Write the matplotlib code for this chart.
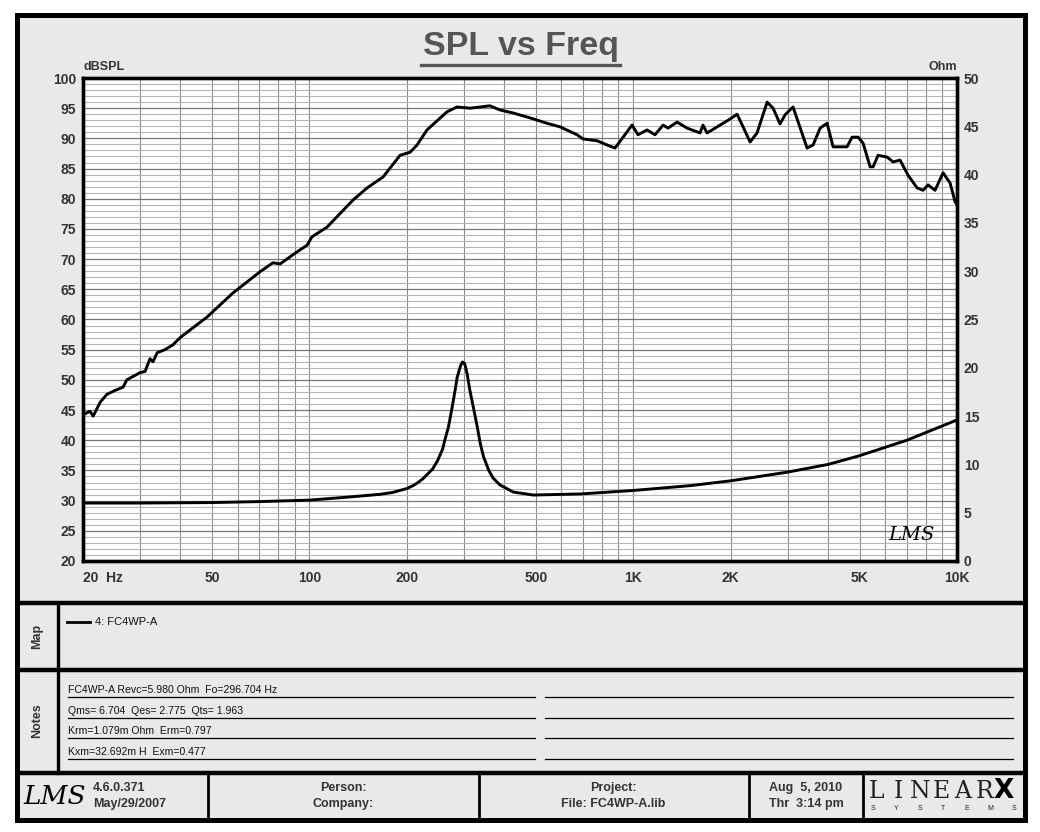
import matplotlib
matplotlib.use("Agg")
import matplotlib.pyplot as plt
from matplotlib.patches import Rectangle
from matplotlib.ticker import FixedLocator, LogLocator, MultipleLocator, NullFormatter

plt.rcParams['font.family'] = ['Liberation Sans Narrow', 'Liberation Sans', 'DejaVu Sans']

# ---- data ----
spl_freq = [20, 21.0, 21.5, 22.6, 23.7, 25, 26.6, 27.3, 30, 31.1, 32.2, 32.9, 33.9, 35.8, 37.9,
            39.9, 48.3, 58.1, 70.4, 77.2, 81.2, 91.6, 98.4, 101.9, 113.4, 136.5, 150.8, 168.9,
            190.6, 204.6, 215.1, 230.8, 266.2, 285.8, 313.4, 337, 361, 388, 426, 480, 542, 595,
            671, 700, 774, 831, 879, 931, 992, 1035, 1104, 1168, 1237, 1281, 1366, 1467, 1609,
            1643, 1691, 1855, 1991, 2093, 2185, 2296, 2413, 2592, 2704, 2842, 2944, 3116, 3444,
            3594, 3778, 3970, 4144, 4577, 4742, 4950, 5129, 5391, 5508, 5706, 6081, 6346, 6671,
            7062, 7528, 7856, 8140, 8555, 9057, 9520, 9864, 10000]
spl_db = [44.2, 44.8, 44.0, 46.3, 47.6, 48.2, 48.8, 50.0, 51.2, 51.4, 53.5, 53.0, 54.5, 55.0, 55.8,
          57.0, 60.4, 64.4, 67.9, 69.4, 69.2, 71.2, 72.3, 73.7, 75.3, 79.8, 81.8, 83.6,
          87.2, 87.7, 88.9, 91.4, 94.4, 95.2, 95.0, 95.2, 95.4, 94.7, 94.2, 93.4, 92.5, 91.9,
          90.6, 89.9, 89.6, 88.9, 88.4, 90.2, 92.2, 90.6, 91.4, 90.6, 92.2, 91.7, 92.7, 91.7, 90.9,
          92.2, 90.9, 92.2, 93.2, 94.0, 91.9, 89.4, 90.9, 96.0, 95.0, 92.4, 93.9, 95.2, 88.4,
          88.9, 91.7, 92.5, 88.6, 88.6, 90.2, 90.2, 89.2, 85.3, 85.3, 87.2, 86.9, 86.1, 86.4,
          83.9, 81.8, 81.4, 82.3, 81.4, 84.3, 82.6, 79.5, 79.0]

imp_freq = [20, 30, 50, 70, 100, 130, 165, 181, 200, 209, 216, 224, 240, 249, 258, 262, 269, 276,
            282, 286, 293, 297, 302, 307, 313, 321, 330, 337, 345, 358, 369, 388, 426, 491, 686,
            1000, 1500, 2000, 3000, 4000, 5000, 7000, 10000]
imp_ohm = [6.0, 6.0, 6.05, 6.15, 6.3, 6.6, 6.9, 7.1, 7.5, 7.8, 8.1, 8.5, 9.5, 10.4, 11.6, 12.5,
           13.9, 15.9, 17.7, 19.0, 20.2, 20.6, 20.4, 19.4, 17.7, 15.9, 13.9, 12.2, 10.8, 9.4, 8.6,
           7.87, 7.14, 6.83, 6.94, 7.3, 7.8, 8.3, 9.2, 10.0, 10.9, 12.5, 14.6]

x_ticks = [20, 50, 100, 200, 500, 1000, 2000, 5000, 10000]
x_labels = ['20  Hz', '50', '100', '200', '500', '1K', '2K', '5K', '10K']
notes = ['FC4WP-A Revc=5.980 Ohm  Fo=296.704 Hz',
         'Qms= 6.704  Qes= 2.775  Qts= 1.963',
         'Krm=1.079m Ohm  Erm=0.797',
         'Kxm=32.692m H  Exm=0.477']

W, H = 1040, 832
PANEL = '#e9e9e9'
TXT = '#333333'

fig = plt.figure(figsize=(W / 100, H / 100), dpi=100)
fig.patch.set_facecolor('white')

# page furniture drawn in pixel coordinates
bg = fig.add_axes([0, 0, 1, 1])
bg.set_xlim(0, W); bg.set_ylim(H, 0); bg.axis('off')
bg.add_patch(Rectangle((17, 15), 1008, 805, fc=PANEL, ec='black', lw=3.6))
for y in (603, 670, 773):
    bg.plot([17, 1025], [y, y], color='black', lw=3.2, solid_capstyle='butt')
bg.plot([58, 58], [603, 773], color='black', lw=2.4)
for x in (208, 479, 749, 863):
    bg.plot([x, x], [773, 820], color='black', lw=2.0)

# title
bg.text(521, 47, 'SPL vs Freq', ha='center', va='center', fontsize=24.5, fontweight='bold', color='#555555')
bg.plot([421, 620], [65, 65], color='#555555', lw=2.4)
bg.text(83, 67, 'dBSPL', ha='left', va='center', fontsize=9, fontweight='bold', color=TXT)
bg.text(957, 67, 'Ohm', ha='right', va='center', fontsize=9, fontweight='bold', color=TXT)

# map panel
bg.text(37, 636, 'Map', rotation=90, ha='center', va='center', fontsize=9, fontweight='bold', color=TXT)
bg.plot([67, 90], [622, 622], color='black', lw=2.0)
bg.text(95, 622, '4: FC4WP-A', ha='left', va='center', fontsize=8, color='#111111')

# notes panel
bg.text(37, 721, 'Notes', rotation=90, ha='center', va='center', fontsize=9, fontweight='bold', color=TXT)
for i, s in enumerate(notes):
    y = 697 + i * 20.6
    bg.text(68, y - 2, s, ha='left', va='bottom', fontsize=7.6, color='#111111')
    bg.plot([68, 535], [y, y], color='black', lw=0.9)
    bg.plot([545, 1013], [y, y], color='black', lw=0.9)

# footer
bg.text(55, 797, 'LMS', ha='center', va='center', fontsize=19, style='italic',
        family='DejaVu Serif', color='black')
bg.text(93, 788, '4.6.0.371', ha='left', va='center', fontsize=9, fontweight='bold', color=TXT)
bg.text(93, 804, 'May/29/2007', ha='left', va='center', fontsize=9, fontweight='bold', color=TXT)
bg.text(343, 788, 'Person:', ha='center', va='center', fontsize=9, fontweight='bold', color=TXT)
bg.text(343, 804, 'Company:', ha='center', va='center', fontsize=9, fontweight='bold', color=TXT)
bg.text(613, 788, 'Project:', ha='center', va='center', fontsize=9, fontweight='bold', color=TXT)
bg.text(613, 804, 'File: FC4WP-A.lib', ha='center', va='center', fontsize=9, fontweight='bold', color=TXT)
bg.text(806, 788, 'Aug  5, 2010', ha='center', va='center', fontsize=9, fontweight='bold', color=TXT)
bg.text(806, 804, 'Thr  3:14 pm', ha='center', va='center', fontsize=9, fontweight='bold', color=TXT)
for i, ch in enumerate('LINEAR'):
    bg.text(877 + i * 21.5, 792, ch, ha='center', va='center', fontsize=17, family='DejaVu Serif',
            fontweight='light', color='#222222')
bg.text(1004, 791, 'X', ha='center', va='center', fontsize=19, fontweight='heavy',
        family='DejaVu Sans', color='black')
for i, ch in enumerate('SYSTEMS'):
    bg.text(873 + i * 23.5, 808, ch, ha='center', va='center', fontsize=5, color='#222222')

# ---- chart ----
ax = fig.add_axes([83 / W, 1 - 561 / H, 874 / W, 483 / H])
ax.set_facecolor('white')
ax.set_xscale('log')
ax.set_xlim(20, 10000)
ax.set_ylim(20, 100)
ax.xaxis.set_major_locator(FixedLocator(x_ticks))
ax.xaxis.set_minor_locator(LogLocator(base=10, subs=range(1, 10), numticks=20))
ax.xaxis.set_minor_formatter(NullFormatter())
ax.set_xticklabels(x_labels)
ax.yaxis.set_major_locator(MultipleLocator(5))
ax.yaxis.set_minor_locator(MultipleLocator(1))
ax.grid(axis='x', which='both', color='#8c8c8c', lw=0.8)
ax.grid(axis='y', which='minor', color='#b5b5b5', lw=0.8)
ax.grid(axis='y', which='major', color='#777777', lw=0.9)
ax.tick_params(which='both', length=0)
ax.tick_params(axis='x', pad=7, labelsize=10, labelcolor=TXT)
ax.tick_params(axis='y', pad=5, labelsize=10, labelcolor=TXT)
for lab in ax.get_xticklabels() + ax.get_yticklabels():
    lab.set_fontweight('bold')
ax.get_xticklabels()[0].set_horizontalalignment('left')
for sp in ax.spines.values():
    sp.set_linewidth(2.4)
ax.plot(spl_freq, spl_db, color='black', lw=2.1, solid_joinstyle='round')

ax2 = ax.twinx()
ax2.set_ylim(0, 50)
ax2.yaxis.set_major_locator(MultipleLocator(5))
ax2.tick_params(length=0, pad=5, labelsize=10, labelcolor=TXT)
for lab in ax2.get_yticklabels():
    lab.set_fontweight('bold')
for sp in ax2.spines.values():
    sp.set_linewidth(2.4)
ax2.plot(imp_freq, imp_ohm, color='black', lw=2.1, solid_joinstyle='round')

ax2.text(0.975, 0.035, 'LMS', transform=ax.transAxes, ha='right', va='bottom', fontsize=14,
         style='italic', family='DejaVu Serif', color='black')

fig.savefig('out.png', dpi=100, facecolor='white')
